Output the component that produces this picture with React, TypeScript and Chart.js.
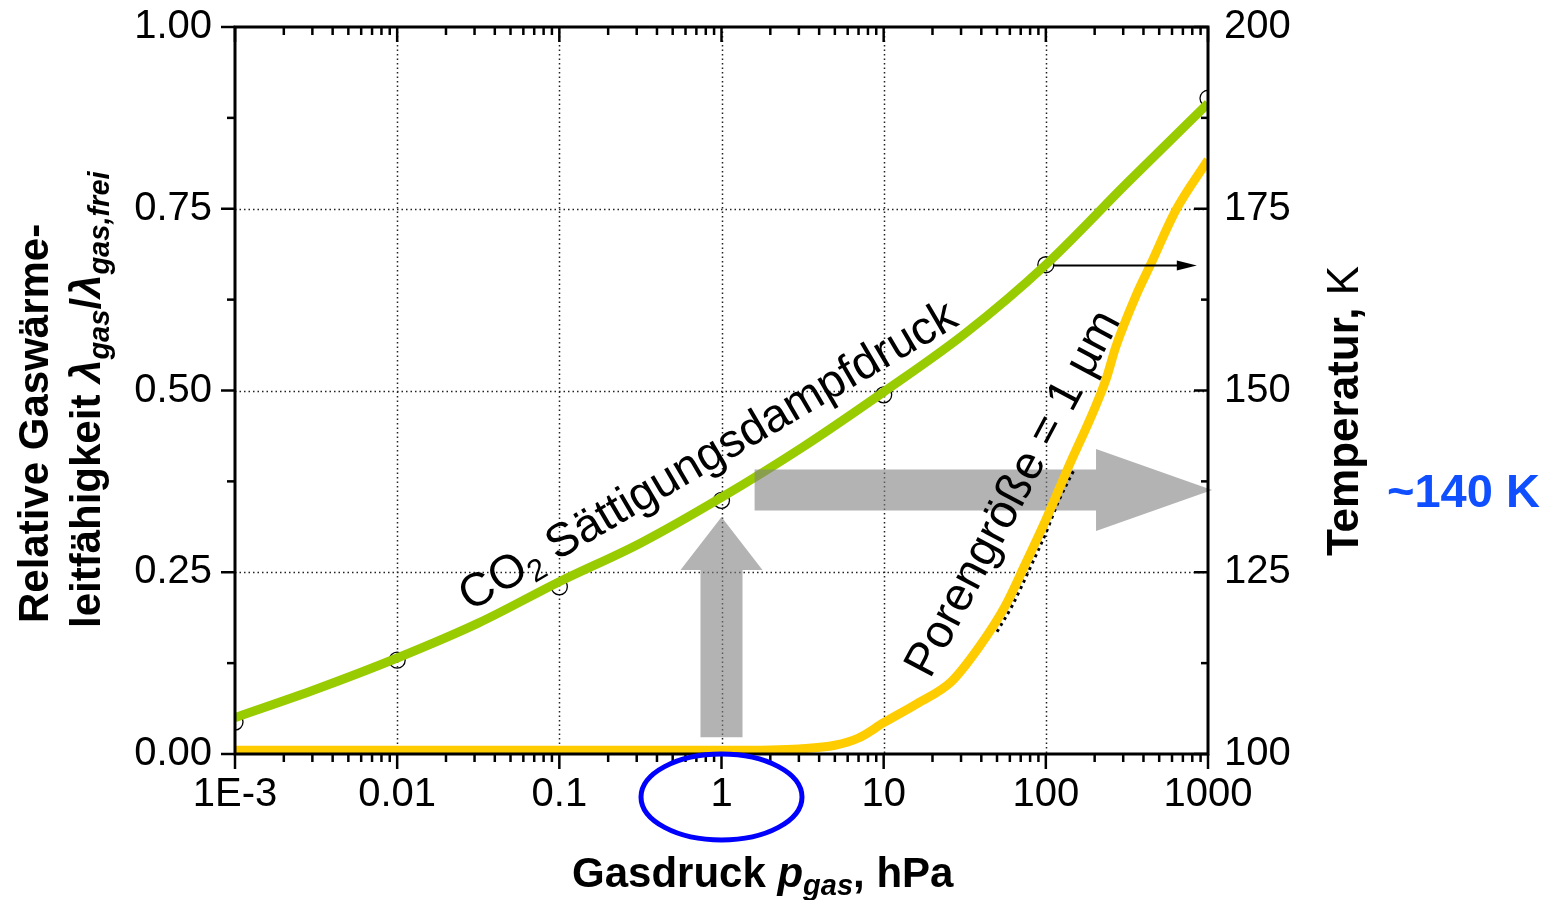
import React, { useEffect, useRef } from "react";
import { Chart, registerables } from "chart.js";

Chart.register(...registerables);

// ---------- data ----------
const xTickValues = [0.001, 0.01, 0.1, 1, 10, 100, 1000];
const xTickLabels = ["1E-3", "0.01", "0.1", "1", "10", "100", "1000"];
const yTickValues = [0, 0.25, 0.5, 0.75, 1.0];
const yTickLabels = ["0.00", "0.25", "0.50", "0.75", "1.00"];
const y2TickValues = [100, 125, 150, 175, 200];
const y2TickLabels = ["100", "125", "150", "175", "200"];

// CO2 saturation vapour pressure curve (temperature, right axis)
const co2Pressure = [0.001, 0.00316, 0.01, 0.0316, 0.1, 0.316, 1, 3.16, 10, 31.6, 100, 316, 1000];
const co2Temperature = [105.0, 108.9, 113.2, 118.0, 123.7, 129.0, 135.3, 142.2, 149.8, 157.8, 167.3, 178.5, 189.5];

// open-circle data points of the CO2 curve
const markerPressure = [0.001, 0.01, 0.1, 1, 10, 100, 1000];
const markerTemperature = [104.4, 112.9, 123.0, 134.9, 149.4, 167.3, 190.2];

// relative gas conductivity, pore size 1 µm (left axis)
const porePressure = [0.001, 0.01, 0.1, 1, 2, 3, 5, 7, 10, 16, 26, 39, 56, 75, 100, 135, 234, 270, 359, 440, 634, 1000];
const poreRatio = [0.005, 0.005, 0.005, 0.005, 0.0055, 0.007, 0.012, 0.022, 0.043, 0.069, 0.099, 0.148, 0.203, 0.262, 0.322, 0.39, 0.514, 0.56, 0.63, 0.672, 0.748, 0.817];

// partly hidden black dotted curve next to the yellow one
const auxPressure = [50, 62, 80, 100, 120, 150];
const auxRatio = [0.168, 0.204, 0.256, 0.304, 0.348, 0.392];

// ---------- style ----------
const FONT = "'Liberation Sans', Arial, Helvetica, sans-serif";
const GREEN = "#99CC00";
const YELLOW = "#FFCC00";
const ARROW_GRAY = "rgba(128,128,128,0.6)";

function drawRuns(ctx: CanvasRenderingContext2D, x: number, y: number, angle: number, runs: any[]) {
  ctx.save();
  ctx.translate(x, y);
  ctx.rotate(angle);
  ctx.textAlign = "left";
  ctx.textBaseline = "alphabetic";
  let cx = 0;
  for (const r of runs) {
    ctx.font = r.font;
    ctx.fillStyle = r.color || "#000";
    ctx.fillText(r.text, cx, r.dy || 0);
    cx += ctx.measureText(r.text).width;
  }
  ctx.restore();
}

const overlayPlugin = {
  id: "overlay",
  beforeDatasetsDraw(chart: any) {
    const { ctx, chartArea: a, scales } = chart;
    const x = scales.x, y = scales.y;
    ctx.save();
    ctx.strokeStyle = "#222";
    ctx.lineWidth = 1.5;
    ctx.setLineDash([1.5, 3]);
    for (const v of xTickValues.slice(1, -1)) {
      const px = Math.round(x.getPixelForValue(v)) + 0.5;
      ctx.beginPath(); ctx.moveTo(px, a.top); ctx.lineTo(px, a.bottom); ctx.stroke();
    }
    for (const v of yTickValues.slice(1, -1)) {
      const py = Math.round(y.getPixelForValue(v)) + 0.5;
      ctx.beginPath(); ctx.moveTo(a.left, py); ctx.lineTo(a.right, py); ctx.stroke();
    }
    ctx.restore();
  },
  afterDatasetDraw(chart: any, args: any) {
    if (args.index !== 2) return;
    const { ctx, scales } = chart;
    const x = scales.x, y = scales.y, y2 = scales.y2;
    ctx.save();
    ctx.fillStyle = ARROW_GRAY;
    // vertical arrow at p = 1 hPa
    const ux = x.getPixelForValue(1);
    const uBase = y.getPixelForValue(0.023);
    const uHead = y.getPixelForValue(0.253);
    const uTip = y.getPixelForValue(0.326);
    ctx.beginPath();
    ctx.moveTo(ux - 21, uBase);
    ctx.lineTo(ux - 21, uHead);
    ctx.lineTo(ux - 41, uHead);
    ctx.lineTo(ux, uTip);
    ctx.lineTo(ux + 41, uHead);
    ctx.lineTo(ux + 21, uHead);
    ctx.lineTo(ux + 21, uBase);
    ctx.closePath();
    ctx.fill();
    // horizontal arrow to the temperature axis
    const hy = y2.getPixelForValue(136.3);
    const hStart = x.getPixelForValue(1.6);
    const hHead = x.getPixelForValue(204);
    const hTip = x.getPixelForValue(1060);
    ctx.beginPath();
    ctx.moveTo(hStart, hy - 20.5);
    ctx.lineTo(hHead, hy - 20.5);
    ctx.lineTo(hHead, hy - 41);
    ctx.lineTo(hTip, hy);
    ctx.lineTo(hHead, hy + 41);
    ctx.lineTo(hHead, hy + 20.5);
    ctx.lineTo(hStart, hy + 20.5);
    ctx.closePath();
    ctx.fill();
    ctx.restore();
  },
  afterDatasetsDraw(chart: any) {
    const { ctx, chartArea: a, scales } = chart;
    const x = scales.x, y = scales.y, y2 = scales.y2;
    ctx.save();
    // frame
    ctx.strokeStyle = "#000";
    ctx.lineWidth = 3;
    ctx.setLineDash([]);
    ctx.strokeRect(a.left, a.top, a.right - a.left, a.bottom - a.top);
    // tick marks
    ctx.lineWidth = 2.5;
    const line = (x1: number, y1: number, x2: number, y2_: number) => {
      ctx.beginPath(); ctx.moveTo(x1, y1); ctx.lineTo(x2, y2_); ctx.stroke();
    };
    for (let d = 0; d < xTickValues.length; d++) {
      const dec = xTickValues[d];
      const px = x.getPixelForValue(dec);
      line(px, a.bottom, px, a.bottom + 15);
      line(px, a.top, px, a.top + 15);
      if (d < xTickValues.length - 1) {
        for (let k = 2; k <= 9; k++) {
          const mx = x.getPixelForValue(dec * k);
          line(mx, a.bottom, mx, a.bottom + 8);
          line(mx, a.top, mx, a.top + 8);
        }
      }
    }
    for (let i = 0; i < yTickValues.length; i++) {
      const py = y.getPixelForValue(yTickValues[i]);
      line(a.left - 14, py, a.left, py);
      if (i < yTickValues.length - 1) {
        const my = y.getPixelForValue((yTickValues[i] + yTickValues[i + 1]) / 2);
        line(a.left - 8, my, a.left, my);
      }
    }
    for (let i = 0; i < y2TickValues.length; i++) {
      const py = y2.getPixelForValue(y2TickValues[i]);
      line(a.right - 14, py, a.right, py);
      if (i < y2TickValues.length - 1) {
        const my = y2.getPixelForValue((y2TickValues[i] + y2TickValues[i + 1]) / 2);
        line(a.right - 7, my, a.right, my);
      }
    }
    // thin black arrow from the 100 hPa point to the temperature axis
    const by = Math.round(y2.getPixelForValue(167.3)) + 0.5;
    const bx1 = x.getPixelForValue(112);
    const bx2 = x.getPixelForValue(853);
    ctx.lineWidth = 2;
    line(bx1, by, bx2 - 16, by);
    ctx.fillStyle = "#000";
    ctx.beginPath();
    ctx.moveTo(bx2, by);
    ctx.lineTo(bx2 - 20, by - 5);
    ctx.lineTo(bx2 - 20, by + 5);
    ctx.closePath();
    ctx.fill();
    // blue ellipse around p = 1 hPa
    ctx.strokeStyle = "#0000FF";
    ctx.lineWidth = 5;
    ctx.beginPath();
    ctx.ellipse(x.getPixelForValue(1), a.bottom + 43, 80.5, 43, 0, 0, Math.PI * 2);
    ctx.stroke();
    ctx.restore();

    // curve labels
    const big = 47;
    drawRuns(ctx, x.getPixelForValue(0.0281), y.getPixelForValue(0.1953), (-30.4 * Math.PI) / 180, [
      { text: "CO", font: `${big}px ${FONT}` },
      { text: "2", font: `${Math.round(big * 0.65)}px ${FONT}`, dy: 8 },
      { text: " Sättigungsdampfdruck", font: `${big}px ${FONT}` },
    ]);
    drawRuns(ctx, x.getPixelForValue(19.3), y.getPixelForValue(0.102), (-62.0 * Math.PI) / 180, [
      { text: "Porengröße = 1 µm", font: `${big}px ${FONT}` },
    ]);

    // axis titles
    const T = 42;
    const S = 29;
    const b = `bold ${T}px ${FONT}`;
    const bi = `italic bold ${T}px ${FONT}`;
    const sbi = `italic bold ${S}px ${FONT}`;
    drawRuns(ctx, 48, 623, -Math.PI / 2, [{ text: "Relative Gaswärme-", font: b }]);
    drawRuns(ctx, 100, 628, -Math.PI / 2, [
      { text: "leitfähigkeit ", font: b },
      { text: "λ", font: bi },
      { text: "gas", font: sbi, dy: 9 },
      { text: "/", font: b },
      { text: "λ", font: bi },
      { text: "gas,frei", font: sbi, dy: 9 },
    ]);
    drawRuns(ctx, 1358, 556, -Math.PI / 2, [
      { text: "Temperatur,", font: `bold 44px ${FONT}` },
      { text: " K", font: `44px ${FONT}` },
    ]);
    drawRuns(ctx, 572, 887, 0, [
      { text: "Gasdruck ", font: b },
      { text: "p", font: bi },
      { text: "gas", font: sbi, dy: 8 },
      { text: ", hPa", font: b },
    ]);
    drawRuns(ctx, 1387, 507, 0, [{ text: "~140 K", font: `bold 47px ${FONT}`, color: "#0F4FFF" }]);
  },
};

export default function App() {
  const ref = useRef<HTMLCanvasElement | null>(null);
  useEffect(() => {
    if (!ref.current) return;
    const chart = new Chart(ref.current, {
      type: "line",
      data: {
        datasets: [
          {
            label: "Porengröße 1 µm",
            data: porePressure.map((p, i) => ({ x: p, y: poreRatio[i] })),
            yAxisID: "y",
            borderColor: YELLOW,
            borderWidth: 9,
            pointRadius: 0,
            fill: false,
            cubicInterpolationMode: "monotone",
            order: 1,
          },
          {
            label: "aux",
            data: auxPressure.map((p, i) => ({ x: p, y: auxRatio[i] })),
            yAxisID: "y",
            borderColor: "#000",
            borderWidth: 3,
            borderDash: [3, 4],
            pointRadius: 0,
            fill: false,
            cubicInterpolationMode: "monotone",
            order: 2,
          },
          {
            label: "CO2 Sättigungsdampfdruck",
            data: co2Pressure.map((p, i) => ({ x: p, y: co2Temperature[i] })),
            yAxisID: "y2",
            borderColor: GREEN,
            borderWidth: 9,
            pointRadius: 0,
            fill: false,
            cubicInterpolationMode: "monotone",
            order: 3,
          },
          {
            label: "Datenpunkte",
            data: markerPressure.map((p, i) => ({ x: p, y: markerTemperature[i] })),
            yAxisID: "y2",
            showLine: false,
            pointRadius: 8,
            pointBorderWidth: 1.3,
            pointBorderColor: "#000",
            pointBackgroundColor: "rgba(255,255,255,0)",
            clip: 0,
            order: 4,
          },
        ],
      },
      options: {
        animation: false,
        responsive: false,
        devicePixelRatio: 1,
        layout: { padding: { top: 27, left: 0, right: 0, bottom: 0 } },
        plugins: { legend: { display: false }, tooltip: { enabled: false } },
        scales: {
          x: {
            type: "logarithmic",
            position: "bottom",
            min: 0.001,
            max: 1000,
            grid: { display: false, drawTicks: false },
            border: { display: false },
            afterBuildTicks: (s: any) => {
              s.ticks = xTickValues.map((v) => ({ value: v }));
            },
            afterFit: (s: any) => {
              s.height = 146;
              s.paddingLeft = 0;
              s.paddingRight = 0;
            },
            ticks: {
              autoSkip: false,
              maxRotation: 0,
              minRotation: 0,
              padding: 17,
              color: "#000",
              font: { family: FONT, size: 40 },
              callback: (_v: any, i: number) => xTickLabels[i],
            },
          },
          y: {
            type: "linear",
            position: "left",
            min: 0,
            max: 1,
            grid: { display: false, drawTicks: false },
            border: { display: false },
            afterBuildTicks: (s: any) => {
              s.ticks = yTickValues.map((v) => ({ value: v }));
            },
            afterFit: (s: any) => {
              s.width = 235;
              s.paddingTop = 0;
              s.paddingBottom = 0;
            },
            ticks: {
              padding: 23,
              color: "#000",
              font: { family: FONT, size: 40 },
              callback: (_v: any, i: number) => yTickLabels[i],
            },
          },
          y2: {
            type: "linear",
            position: "right",
            min: 100,
            max: 200,
            grid: { display: false, drawTicks: false },
            border: { display: false },
            afterBuildTicks: (s: any) => {
              s.ticks = y2TickValues.map((v) => ({ value: v }));
            },
            afterFit: (s: any) => {
              s.width = 343;
              s.paddingTop = 0;
              s.paddingBottom = 0;
            },
            ticks: {
              padding: 16,
              color: "#000",
              font: { family: FONT, size: 40 },
              callback: (_v: any, i: number) => y2TickLabels[i],
            },
          },
        },
      },
      plugins: [overlayPlugin],
    } as any);
    return () => chart.destroy();
  }, []);
  return (
    <div style={{ position: "absolute", left: 0, top: 0, width: 1551, height: 900, background: "#fff" }}>
      <canvas ref={ref} width={1551} height={900} style={{ display: "block" }} />
    </div>
  );
}
